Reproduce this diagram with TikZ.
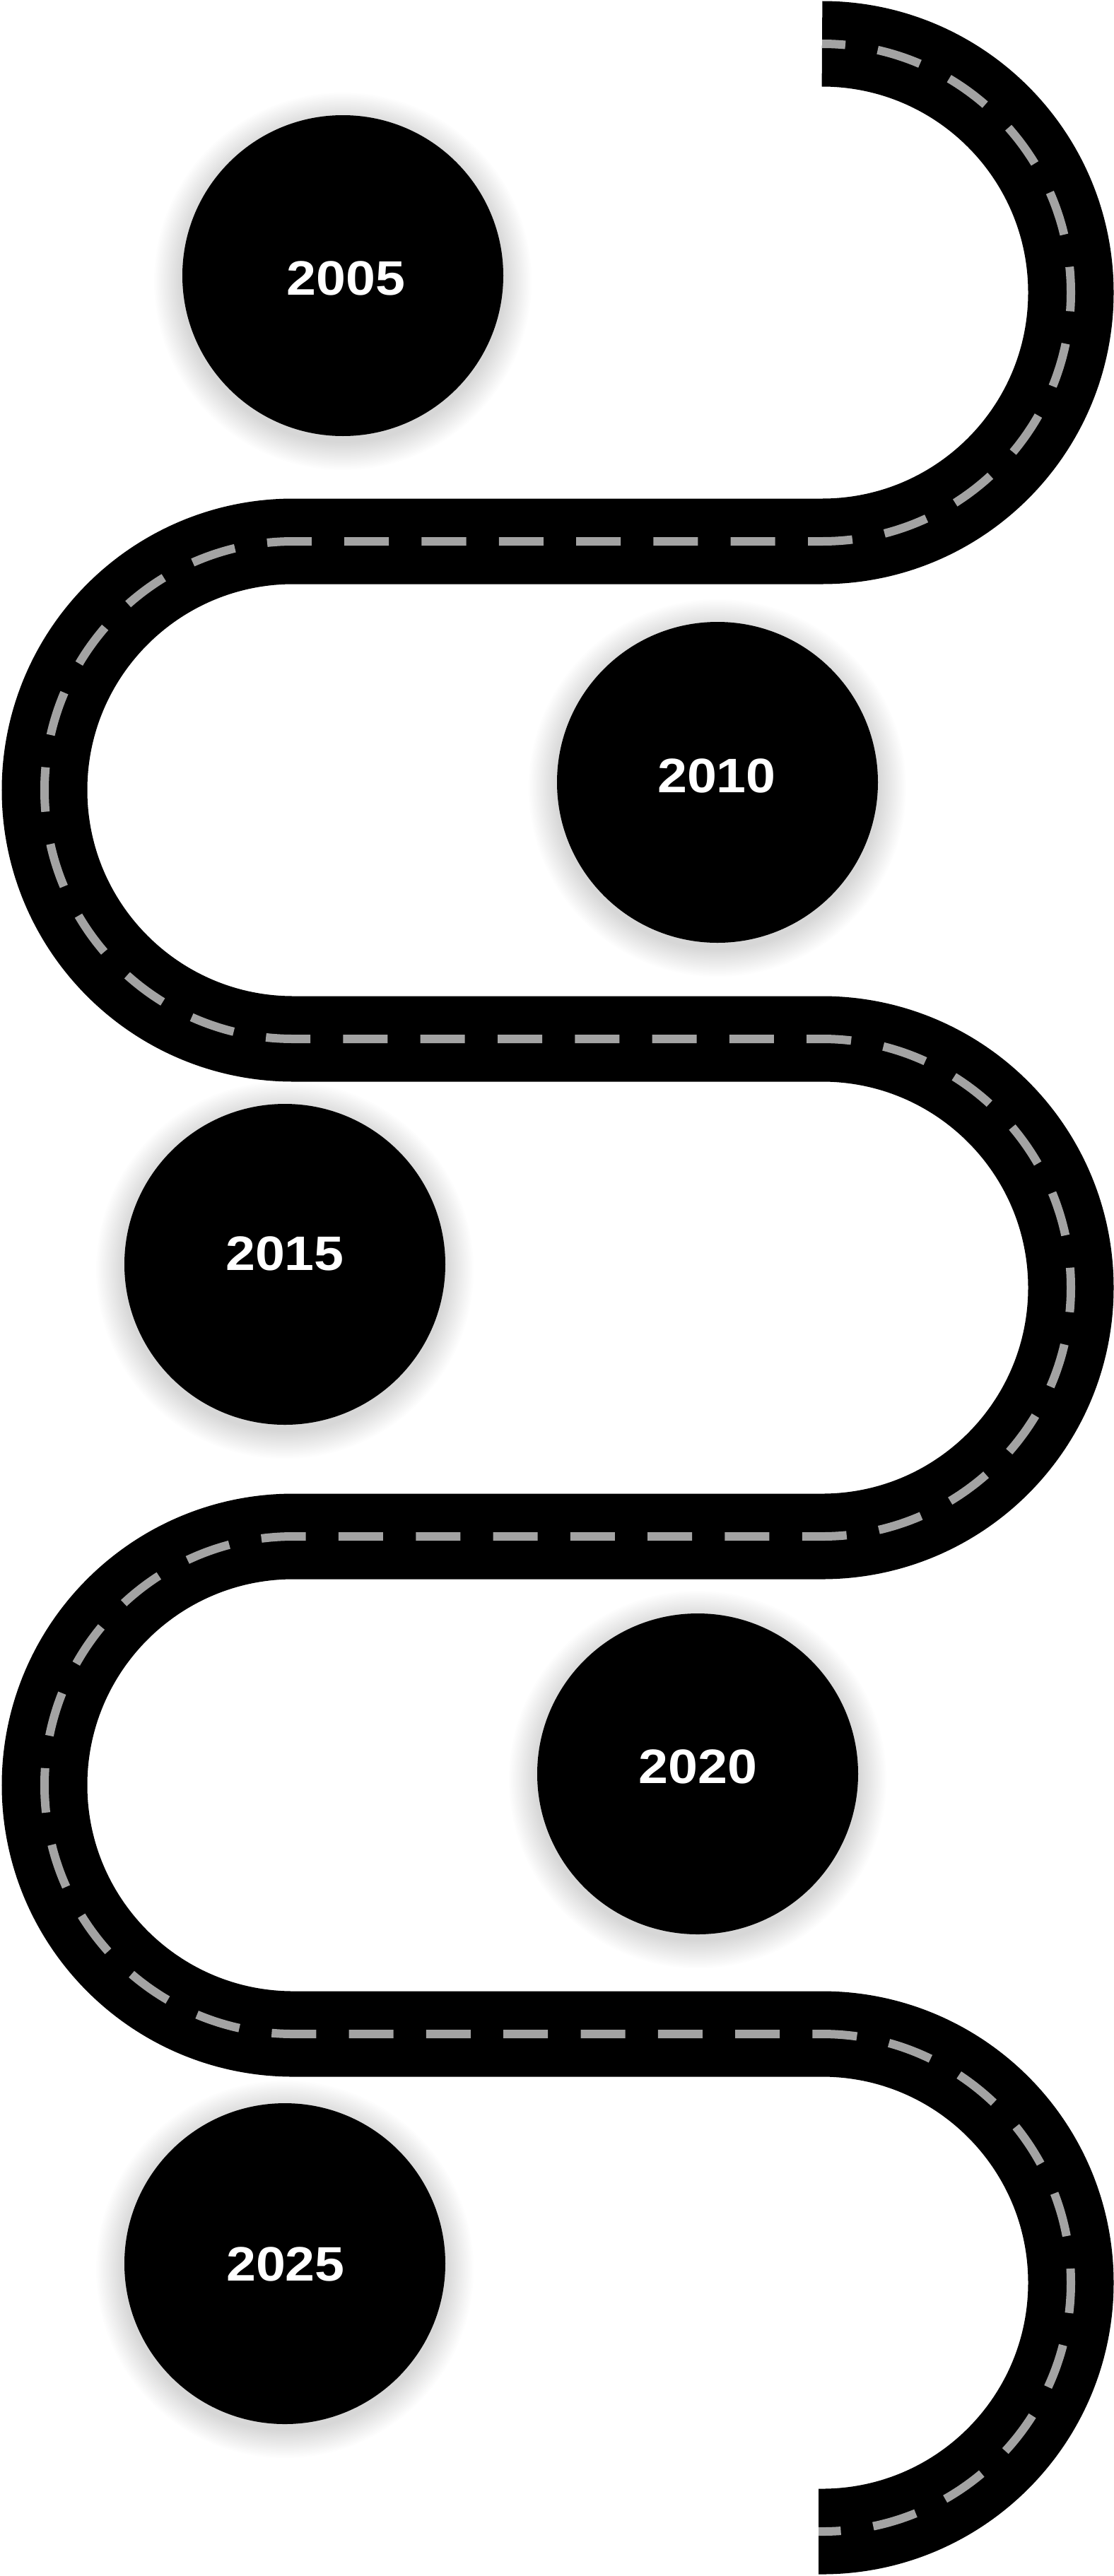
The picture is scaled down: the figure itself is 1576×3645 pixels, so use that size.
\documentclass[tikz,border=0pt]{standalone}
\usepackage{fontspec}
\setmainfont{Liberation Sans}
\newfontfamily\yearfont[FakeStretch=1.1]{Liberation Sans}
\definecolor{lanegray}{RGB}{163,163,163}
\begin{document}
\begin{tikzpicture}[x=1pt,y=-1pt,
  road/.style={line width=121pt, draw=black},
  lane/.style={line width=12pt, draw=lanegray, dash pattern=on 63pt off 46.3pt, dash phase=30pt},
  yearcircle/.style={circle, fill=black, minimum size=454pt, inner sep=0pt},
  yeartext/.style={text=white, inner sep=0pt, font=\yearfont\bfseries\fontsize{68.5}{70}\selectfont}]
\fill[white] (0,0) rectangle (1576,3645);
\useasboundingbox (0,0) rectangle (1576,3645);
% road
\draw[road] (1163,62) arc[start angle=-90,end angle=90,radius=352]
  -- (415,766) arc[start angle=-90,end angle=-270,radius=352]
  -- (1163,1470) arc[start angle=-90,end angle=90,radius=352]
  -- (415,2174) arc[start angle=-90,end angle=-270,radius=352]
  -- (1163,2878) arc[start angle=-90,end angle=90,radius=352] -- (1158,3582);
\draw[lane] (1163,62) arc[start angle=-90,end angle=90,radius=352]
  -- (415,766) arc[start angle=-90,end angle=-270,radius=352]
  -- (1163,1470) arc[start angle=-90,end angle=90,radius=352]
  -- (415,2174) arc[start angle=-90,end angle=-270,radius=352]
  -- (1163,2878) arc[start angle=-90,end angle=90,radius=352] -- (1158,3582);
% shadows
\foreach \cx/\cy in {485/390, 1015/1107, 403/1789, 987/2510, 403/3203}{
  \foreach \i in {1,...,20}{
    \fill[black, opacity=0.009] (\cx,\cy+8) circle[radius=227+2*\i];
  }
}
% circles
\node[yearcircle] (c2005) at (485,390) {};
\node[yearcircle] (c2010) at (1015,1107) {};
\node[yearcircle] (c2015) at (403,1789) {};
\node[yearcircle] (c2020) at (987,2510) {};
\node[yearcircle] (c2025) at (403,3203) {};
% labels
\node[yeartext] (t2005) at (489.5,393.5) {2005};
\node[yeartext] (t2010) at (1014,1098) {2010};
\node[yeartext] (t2015) at (403,1774) {2015};
\node[yeartext] (t2020) at (987.5,2500) {2020};
\node[yeartext] (t2025) at (404,3203.5) {2025};
\end{tikzpicture}
\end{document}
